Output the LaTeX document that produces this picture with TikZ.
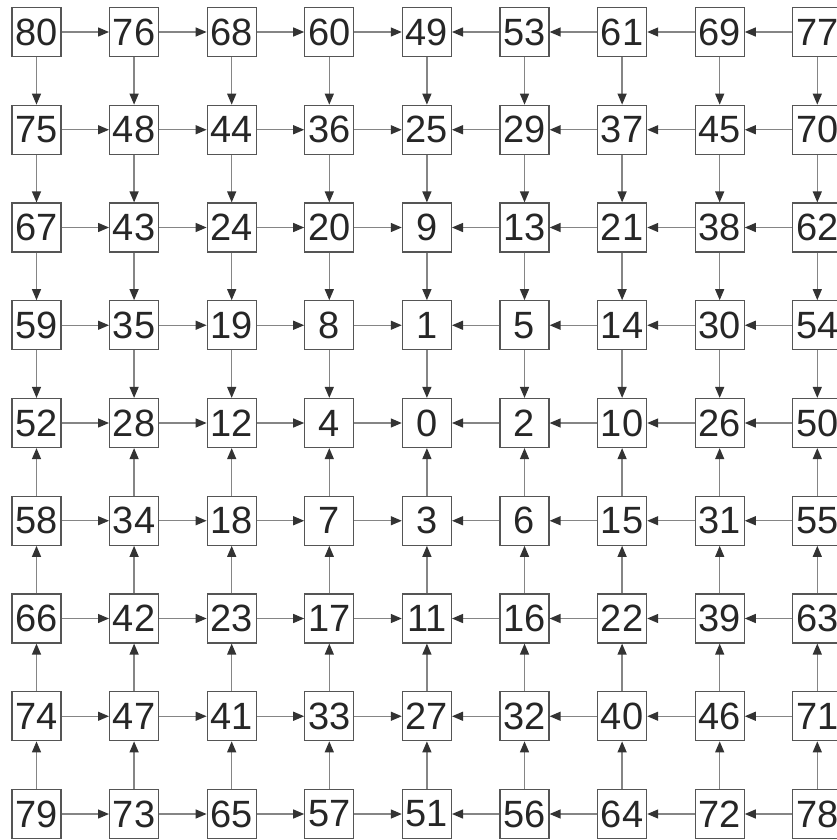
\documentclass[tikz,border=0pt]{standalone}
\usepackage{fontspec}
\setmainfont{Liberation Sans}
\usetikzlibrary{arrows.meta}
\definecolor{boxline}{HTML}{555555}
\definecolor{arrline}{HTML}{858585}
\definecolor{tip}{HTML}{333333}
\definecolor{txt}{HTML}{262626}
\tikzset{
  cell/.style={draw=boxline, line width=1.2pt, minimum size=49pt, inner sep=0pt, text=txt,
    font=\fontsize{38}{38}\selectfont},
  link/.style={draw=arrline, line width=1.3pt, -{Triangle[length=11pt,width=9pt,fill=tip,color=tip]}}
}
\begin{document}
\begin{tikzpicture}[x=1pt,y=-1pt]
\useasboundingbox (0,0) rectangle (836,840);
\def\labs{{80,76,68,60,49,53,61,69,77},{75,48,44,36,25,29,37,45,70},{67,43,24,20,9,13,21,38,62},{59,35,19,8,1,5,14,30,54},{52,28,12,4,0,2,10,26,50},{58,34,18,7,3,6,15,31,55},{66,42,23,17,11,16,22,39,63},{74,47,41,33,27,32,40,46,71},{79,73,65,57,51,56,64,72,78}}
\foreach \r in {0,...,8}{
  \foreach \c in {0,...,8}{
    \pgfmathsetmacro{\lab}{int({\labs}[\r][\c])}
    \node[cell] (n-\r-\c) at ({36.5+97.6*\c},{32+97.75*\r}) {\lab};
  }
}
\foreach \r in {0,...,8}{
  \foreach \c in {0,...,3}{
    \pgfmathtruncatemacro{\d}{\c+1}
    \draw[link] (n-\r-\c) -- (n-\r-\d);
  }
  \foreach \c in {5,...,8}{
    \pgfmathtruncatemacro{\d}{\c-1}
    \draw[link] (n-\r-\c) -- (n-\r-\d);
  }
}
\foreach \c in {0,...,8}{
  \foreach \r in {0,...,3}{
    \pgfmathtruncatemacro{\d}{\r+1}
    \draw[link] (n-\r-\c) -- (n-\d-\c);
  }
  \foreach \r in {5,...,8}{
    \pgfmathtruncatemacro{\d}{\r-1}
    \draw[link] (n-\r-\c) -- (n-\d-\c);
  }
}
\end{tikzpicture}
\end{document}
